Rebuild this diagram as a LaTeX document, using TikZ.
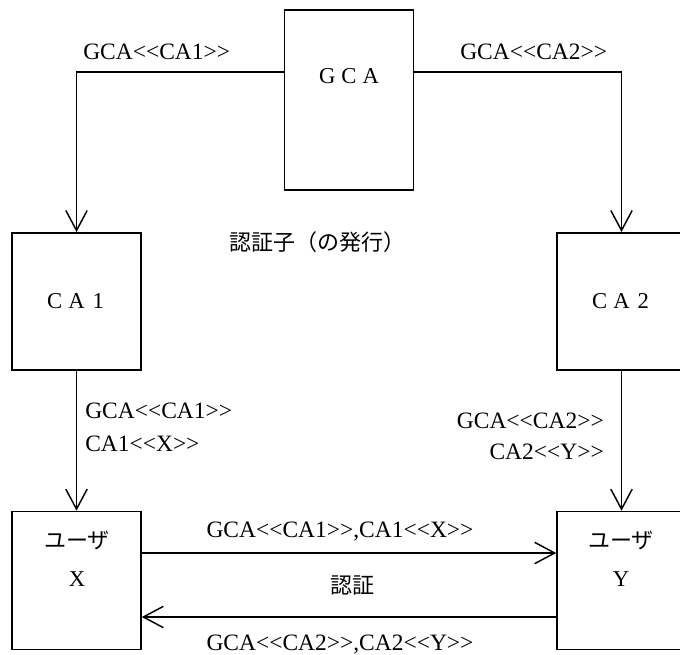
\documentclass[tikz,border=0pt]{standalone}
\usepackage{fontspec}
\setmainfont{Liberation Serif}[Ligatures=TeXOff]
\newfontfamily\jpfont{Noto Sans CJK JP}
\usetikzlibrary{arrows.meta, positioning}
% one full-width letter cell
\newcommand{\zw}[1]{\makebox[16.3pt]{#1}}

\begin{document}
\begin{tikzpicture}[x=0.75pt, y=-0.75pt,
  box/.style={draw, line width=1.2pt, inner sep=0pt, minimum width=96.75pt},
  tag/.style={inner sep=0pt, font=\fontsize{17.6pt}{21pt}\selectfont},
  jp/.style={inner sep=0pt, font=\jpfont\fontsize{16.5pt}{20pt}\selectfont},
  zen/.style={inner sep=0pt, font=\fontsize{17pt}{20pt}\selectfont},
  arr/.style={line width=1.1pt, -{Straight Barb[length=15pt, width=16pt]}}]
  \useasboundingbox (0,0) rectangle (680,655);

  % Boxes
  \node[box, minimum height=135pt] (gca) at (349,100) {};
  \node[box, minimum height=103pt] (ca1) at (76.5,301.5) {};
  \node[box, minimum height=103pt] (ca2) at (621.5,301.5) {};
  \node[box, minimum height=103.5pt] (usrx) at (76.5,580.5) {};
  \node[box, minimum height=103.5pt] (usry) at (621.5,580.5) {};

  \node[zen] (gcaname) at (349,76) {\zw{G}\zw{C}\zw{A}};
  \node[zen] (ca1name) at (ca1) {\zw{C}\zw{A}\zw{1}};
  \node[zen] (ca2name) at (ca2) {\zw{C}\zw{A}\zw{2}};
  \node[jp] (usrxname) at (77,540) {ユーザ};
  \node[zen] (usrxid) at (77,579) {X};
  \node[jp] (usryname) at (621,540) {ユーザ};
  \node[zen] (usryid) at (621,579) {Y};

  % Connectors
  \coordinate (yline) at (0,72);
  \coordinate (ygo) at (0,553);
  \coordinate (yback) at (0,617);
  \draw[arr] (gca.west |- yline) -| (ca1.north);
  \draw[arr] (gca.east |- yline) -| (ca2.north);
  \draw[arr] (ca1.south) -- (usrx.north);
  \draw[arr] (ca2.south) -- (usry.north);
  \draw[arr] (usrx.east |- ygo) -- (usry.west |- ygo);
  \draw[arr] (usry.west |- yback) -- (usrx.east |- yback);

  % Labels
  \node[tag, anchor=west] (l1) at (83,52) {GCA<<CA1>>};
  \node[tag, anchor=west] (l2) at (460,52) {GCA<<CA2>>};
  \node[tag, anchor=west] (l3) at (85,411) {GCA<<CA1>>};
  \node[tag, anchor=west] (l4) at (85,444) {CA1<<X>>};
  \node[tag, anchor=east] (l5) at (604,421) {GCA<<CA2>>};
  \node[tag, anchor=east] (l6) at (604,452) {CA2<<Y>>};
  \node[tag] (l7) at (340,532) {GCA<<CA1>>,CA1<<X>>};
  \node[tag] (l8) at (340,645) {GCA<<CA2>>,CA2<<Y>>};
  \node[jp] (issue) at (317,242) {認証子（の発行）};
  \node[jp] (auth) at (352,586) {認証};
\end{tikzpicture}
\end{document}
